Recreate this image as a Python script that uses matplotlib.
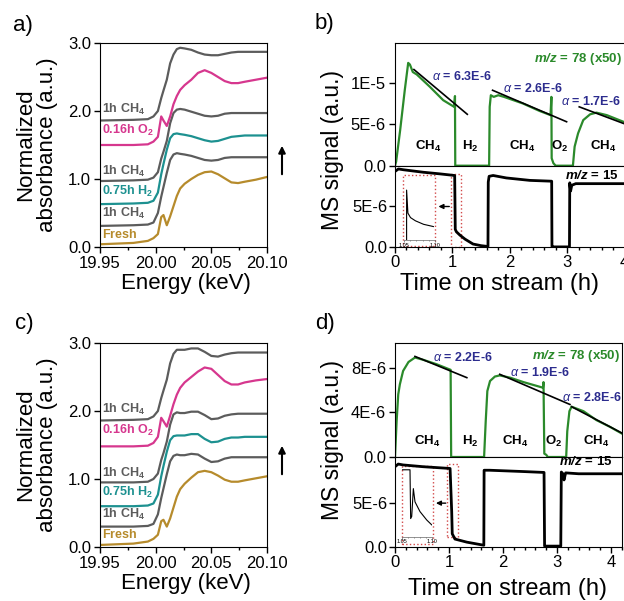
import matplotlib.pyplot as plt
from matplotlib.patches import Rectangle
from matplotlib.ticker import MultipleLocator

plt.rcParams['font.family'] = ['Liberation Sans', 'DejaVu Sans']
plt.rcParams['mathtext.fontset'] = 'custom'
plt.rcParams['mathtext.rm'] = 'Liberation Sans'
plt.rcParams['mathtext.it'] = 'Liberation Sans:italic'
plt.rcParams['mathtext.bf'] = 'Liberation Sans:bold'
plt.rcParams['mathtext.bfit'] = 'Liberation Sans:italic:bold'

# ---- XANES data (a, c) ----
energy = [19.950, 19.980, 19.993, 19.998, 20.002, 20.005, 20.007, 20.010, 20.013, 20.016, 20.019, 20.022,
          20.026, 20.032, 20.038, 20.044, 20.050, 20.056, 20.062, 20.068, 20.074, 20.080, 20.090, 20.100]

a_fresh = [0.04, 0.06, 0.09, 0.13, 0.19, 0.44, 0.47, 0.32, 0.45, 0.60, 0.75, 0.86, 0.93, 1.00, 1.06, 1.10, 1.11, 1.07, 1.01, 0.95, 0.94, 0.96, 0.99, 1.03]
a_ch4_1 = [0.31, 0.32, 0.33, 0.36, 0.50, 0.74, 0.88, 1.09, 1.28, 1.36, 1.38, 1.37, 1.36, 1.34, 1.31, 1.28, 1.27, 1.28, 1.31, 1.32, 1.32, 1.32, 1.32, 1.32]
a_h2 = [0.63, 0.64, 0.65, 0.68, 0.80, 1.07, 1.22, 1.43, 1.60, 1.66, 1.67, 1.66, 1.65, 1.63, 1.60, 1.57, 1.55, 1.56, 1.59, 1.62, 1.63, 1.64, 1.64, 1.64]
a_ch4_2 = [0.97, 0.98, 0.99, 1.02, 1.10, 1.30, 1.40, 1.56, 1.82, 1.97, 2.02, 2.03, 2.02, 1.99, 1.96, 1.93, 1.92, 1.93, 1.96, 1.97, 1.97, 1.97, 1.97, 1.97]
a_o2 = [1.50, 1.50, 1.51, 1.55, 1.62, 1.92, 1.86, 1.78, 1.92, 2.10, 2.22, 2.31, 2.38, 2.46, 2.56, 2.60, 2.56, 2.50, 2.44, 2.41, 2.41, 2.43, 2.46, 2.49]
a_ch4_3 = [1.86, 1.87, 1.88, 1.92, 2.00, 2.19, 2.30, 2.46, 2.70, 2.83, 2.91, 2.93, 2.92, 2.90, 2.86, 2.83, 2.82, 2.82, 2.84, 2.86, 2.87, 2.87, 2.87, 2.87]

c_fresh = [0.03, 0.05, 0.08, 0.12, 0.18, 0.38, 0.40, 0.30, 0.42, 0.58, 0.74, 0.85, 0.93, 1.02, 1.10, 1.12, 1.10, 1.05, 0.99, 0.96, 0.96, 0.98, 1.01, 1.04]
c_ch4_1 = [0.30, 0.30, 0.31, 0.34, 0.48, 0.72, 0.86, 1.07, 1.26, 1.34, 1.36, 1.35, 1.35, 1.37, 1.36, 1.30, 1.25, 1.26, 1.30, 1.32, 1.32, 1.32, 1.32, 1.32]
c_h2 = [0.60, 0.60, 0.61, 0.64, 0.77, 1.04, 1.19, 1.40, 1.57, 1.63, 1.64, 1.64, 1.64, 1.66, 1.66, 1.59, 1.54, 1.55, 1.59, 1.61, 1.61, 1.62, 1.62, 1.62]
c_ch4_2 = [0.95, 0.95, 0.96, 1.00, 1.08, 1.28, 1.38, 1.55, 1.80, 1.95, 1.98, 1.97, 1.97, 1.99, 1.99, 1.94, 1.88, 1.89, 1.93, 1.95, 1.96, 1.96, 1.96, 1.96]
c_o2 = [1.48, 1.48, 1.49, 1.53, 1.62, 1.90, 1.85, 1.77, 1.93, 2.10, 2.24, 2.34, 2.42, 2.50, 2.58, 2.64, 2.62, 2.53, 2.44, 2.39, 2.39, 2.42, 2.45, 2.47]
c_ch4_3 = [1.86, 1.87, 1.88, 1.92, 2.00, 2.19, 2.30, 2.46, 2.70, 2.84, 2.90, 2.90, 2.90, 2.92, 2.92, 2.87, 2.81, 2.80, 2.83, 2.85, 2.86, 2.86, 2.86, 2.86]

xanes_names = [r'$\mathbf{Fresh}$', r'$\mathbf{1h\ CH_4}$', r'$\mathbf{0.75h\ H_2}$',
               r'$\mathbf{1h\ CH_4}$', r'$\mathbf{0.16h\ O_2}$', r'$\mathbf{1h\ CH_4}$']
xanes_colors = ['#b68b2c', '#5c5c5c', '#1d9190', '#5c5c5c', '#d6378e', '#5c5c5c']
a_label_y = [0.18, 0.50, 0.82, 1.11, 1.72, 2.03]
c_label_y = [0.18, 0.48, 0.80, 1.08, 1.72, 2.02]

# ---- MS data (b, d), signal in units of 1E-6 ----
b_t78 = [0.00, 0.02, 0.09, 0.17, 0.23, 0.26, 0.31, 0.38, 0.61, 0.84, 1.03, 1.045, 1.05, 1.63, 1.64, 1.65, 1.67,
         1.72, 1.80, 1.90, 2.23, 2.52, 2.71, 2.725, 2.73, 2.76, 2.80, 3.10, 3.13, 3.19, 3.28, 3.40, 3.51, 3.69, 3.98, 4.10]
b_s78 = [0.0, 0.5, 4.3, 9.1, 12.4, 12.2, 11.3, 11.0, 9.5, 7.9, 7.1, 8.4, 0.0, 0.0, 0.0, 7.1, 8.5,
         8.3, 8.5, 8.3, 7.5, 6.6, 6.1, 8.3, 0.9, 0.3, 0.0, 0.0, 2.3, 3.9, 5.5, 6.2, 6.4, 6.1, 5.3, 5.0]
b_t15 = [0.00, 0.06, 0.15, 0.49, 0.78, 1.04, 1.05, 1.07, 1.13, 1.22, 1.36, 1.50, 1.62, 1.625, 1.64, 1.71, 1.94,
         2.35, 2.73, 2.735, 2.75, 3.04, 3.045, 3.06, 3.08, 3.15, 3.50, 4.10]
b_s15 = [9.3, 9.6, 9.5, 9.2, 9.0, 8.8, 2.2, 1.9, 1.5, 1.0, 0.4, 0.2, 0.1, 8.0, 8.7, 8.8, 8.5,
         8.2, 8.1, 0.1, 0.05, 0.05, 7.9, 6.9, 7.6, 7.8, 7.8, 7.8]
b_fit_t = [[0.33, 1.26], [1.70, 2.99], [3.21, 3.98]]
b_fit_s = [[11.6, 6.2], [9.1, 5.3], [7.1, 5.1]]
b_alpha = ['6.3E-6', '2.6E-6', '1.7E-6']
b_alpha_t = [0.64, 1.89, 2.90]
b_alpha_s = [10.7, 9.3, 7.7]
b_inset_t = [1.0542, 1.0542, 1.0563, 1.0605, 1.0684, 1.0816, 1.0974]
b_inset_s = [0.0, 7.8, 4.2, 3.5, 3.0, 2.45, 2.1]

d_t78 = [0.00, 0.03, 0.06, 0.09, 0.15, 0.25, 0.37, 0.52, 0.77, 1.03, 1.04, 1.65, 1.68, 1.71, 1.76, 1.85, 1.94,
         2.13, 2.38, 2.74, 2.75, 2.765, 2.80, 2.83, 3.17, 3.19, 3.23, 3.27, 3.49, 3.73, 3.98, 4.20]
d_s78 = [0.0, 3.2, 5.6, 6.5, 7.7, 8.5, 8.9, 8.7, 8.3, 7.8, 0.0, 0.0, 3.2, 5.9, 6.8, 7.2, 7.3,
         7.1, 6.7, 6.2, 6.7, 0.3, 0.2, 0.0, 0.0, 2.3, 4.1, 4.5, 4.1, 3.3, 2.7, 2.1]
d_t15 = [0.00, 0.06, 0.15, 0.52, 1.02, 1.05, 1.06, 1.11, 1.33, 1.60, 1.645, 1.65, 1.75, 2.38, 2.76, 2.77,
         3.07, 3.08, 3.11, 3.13, 3.16, 3.40, 4.20]
d_s15 = [9.1, 9.4, 9.3, 9.1, 8.9, 4.0, 1.5, 0.9, 0.55, 0.25, 0.2, 8.7, 8.7, 8.55, 8.45, 0.1,
         0.1, 8.5, 8.3, 7.6, 8.4, 8.3, 8.3]
d_fit_t = [[0.37, 1.33], [1.94, 3.24], [3.27, 4.20]]
d_fit_s = [[9.0, 7.1], [7.4, 4.7], [4.5, 2.15]]
d_alpha = ['2.2E-6', '1.9E-6', '2.8E-6']
d_alpha_t = [0.71, 2.13, 3.09]
d_alpha_s = [8.9, 7.6, 5.3]
d_inset_t = [1.0505, 1.0631, 1.0642, 1.0660, 1.0688, 1.0716, 1.0801, 1.0915, 1.10]
d_inset_s = [9.6, 9.6, 2.6, 2.9, 6.9, 5.0, 3.6, 2.4, 1.7]

gas_names = [r'$\mathbf{CH_4}$', r'$\mathbf{H_2}$', r'$\mathbf{CH_4}$', r'$\mathbf{O_2}$', r'$\mathbf{CH_4}$']
b_gas_t = [0.58, 1.31, 2.21, 2.87, 3.63]
d_gas_t = [0.59, 1.39, 2.22, 2.93, 3.73]

green = '#2b8a2b'
navy = '#2c2c8e'
red = '#d24a4a'

W, H = 624, 601
fig = plt.figure(figsize=(W / 100, H / 100), dpi=100)


def px_axes(x0, y0, x1, y1):
    # axes placed by pixel box (top-left origin)
    return fig.add_axes([x0 / W, 1 - y1 / H, (x1 - x0) / W, (y1 - y0) / H])


def xanes(y_top, curves, label_y):
    ax = px_axes(100, y_top, 267, y_top + 204)
    for curve, col in zip(curves, xanes_colors):
        ax.plot(energy, curve, color=col, lw=1.6)
    for name, col, ly in zip(xanes_names, xanes_colors, label_y):
        ax.text(19.9515, ly, name, color=col, fontsize=9, va='center', ha='left')
    ax.set_xlim(19.95, 20.10)
    ax.set_ylim(0, 3.0)
    ax.set_xticks([19.95, 20.00, 20.05, 20.10])
    ax.set_xticklabels(['19.95', '20.00', '20.05', '20.10'])
    ax.xaxis.set_minor_locator(MultipleLocator(0.025))
    ax.set_yticks([0, 1, 2, 3])
    ax.set_yticklabels(['0.0', '1.0', '2.0', '3.0'])
    ax.tick_params(labelsize=12, length=4, width=1, pad=2.5)
    ax.tick_params(which='minor', length=2.5, width=1)
    # arrow on the right
    ax.annotate('', xy=(282 / W, 1 - (y_top + 100) / H), xytext=(282 / W, 1 - (y_top + 134) / H),
                xycoords='figure fraction', textcoords='figure fraction',
                arrowprops=dict(arrowstyle='-|>', color='black', lw=1.5, mutation_scale=10))
    fig.text(37 / W, 1 - (y_top + 102) / H, 'Normalized\nabsorbance (a.u.)', rotation=90,
             ha='center', va='center', fontsize=16, linespacing=1.05, multialignment='center')
    fig.text(186 / W, 1 - (y_top + 240) / H, 'Energy (keV)', ha='center', va='center', fontsize=16)


def ms(y_top, y_mid, y_bot, x_right, xmax, top_lim, top_ticks, top_labels, bot_lim,
       t78, s78, t15, s15, fit_t, fit_s, alpha, alpha_t, alpha_s, gas_t, gas_y, mz78, mz15,
       inset_box, small_box, arrow_y, inset_px, inset_t, inset_s):
    top = px_axes(395, y_top, x_right, y_mid)
    bot = px_axes(395, y_mid, x_right, y_bot)
    top.plot(t78, s78, color=green, lw=1.6)
    for ft, fs in zip(fit_t, fit_s):
        top.plot(ft, fs, color='black', lw=1.2)
    for a, at, av in zip(alpha, alpha_t, alpha_s):
        top.text(at, av, r'$\alpha$ = ' + a, color=navy, fontsize=9, fontweight='bold', va='center')
    for g, gt in zip(gas_names, gas_t):
        top.text(gt, gas_y, g, fontsize=9.5, ha='center', va='center')
    top.text(mz78[0], mz78[1], r'$\mathbfit{m/z}$ = 78 (x50)', color=green, fontsize=9.5,
             fontweight='bold', ha='right', va='center')
    top.set_xlim(0, xmax)
    top.set_ylim(0, top_lim)
    top.set_yticks(top_ticks)
    top.set_yticklabels(top_labels)
    top.tick_params(axis='x', bottom=False, labelbottom=False)
    top.tick_params(axis='y', labelsize=12, length=4, width=1, pad=2.5)

    bot.plot(t15, s15, color='black', lw=2)
    bot.text(mz15[0], mz15[1], r'$\mathbfit{m/z}$ = 15', fontsize=9.5, fontweight='bold',
             ha='right', va='center')
    bot.set_xlim(0, xmax)
    bot.set_ylim(0, bot_lim)
    bot.set_yticks([0, 5])
    bot.set_yticklabels(['0.0', '5E-6'])
    bot.set_xticks([0, 1, 2, 3, 4])
    bot.xaxis.set_minor_locator(MultipleLocator(0.2))
    bot.tick_params(labelsize=12, length=4, width=1, pad=1.5)
    bot.tick_params(which='minor', length=2.5, width=1)

    # zoom boxes and arrow
    for (x0, y0, x1, y1) in [inset_box, small_box]:
        bot.add_patch(Rectangle((x0, y0), x1 - x0, y1 - y0, fill=False, ls=':', ec=red, lw=1.0,
                                clip_on=False))
    bot.annotate('', xy=(inset_box[2] + 0.06, arrow_y), xytext=(small_box[0] - 0.03, arrow_y),
                 arrowprops=dict(arrowstyle='-|>', color='black', lw=1.0, mutation_scale=7,
                                 shrinkA=0, shrinkB=0))

    ins = px_axes(*inset_px)
    ins.plot(inset_t, inset_s, color='black', lw=0.8)
    ins.set_xlim(1.05, 1.10)
    ins.set_ylim(0, 10)
    ins.patch.set_alpha(0)
    for s in ['top', 'right', 'left']:
        ins.spines[s].set_visible(False)
    ins.spines['bottom'].set_linewidth(0.5)
    ins.spines['bottom'].set_color('#666666')
    ins.set_yticks([])
    ins.set_xticks([1.05, 1.10])
    ins.set_xticklabels(['1.05', '1.10'])
    ins.xaxis.set_minor_locator(MultipleLocator(0.01))
    ins.tick_params(labelsize=4, length=1.5, width=0.5, pad=0.5, color='#666666')
    ins.tick_params(which='minor', length=1, width=0.5, color='#666666')
    return top, bot


# panel a and c
xanes(43, [a_fresh, a_ch4_1, a_h2, a_ch4_2, a_o2, a_ch4_3], a_label_y)
xanes(343, [c_fresh, c_ch4_1, c_h2, c_ch4_2, c_o2, c_ch4_3], c_label_y)

# panel b
ms(43, 165.7, 247.3, 630.3, 4.1, 14.8, [0, 5, 10], ['0.0', '5E-6', '1E-5'], 10.0,
   b_t78, b_s78, b_t15, b_s15, b_fit_t, b_fit_s, b_alpha, b_alpha_t, b_alpha_s, b_gas_t, 2.3,
   (3.95, 12.9), (3.89, 8.86), (0.134, 0.15, 0.697, 8.9), (0.976, 0.0, 1.145, 9.0), 5.0,
   (404, 176, 435, 240), b_inset_t, b_inset_s)
fig.text(333 / W, 1 - 150 / H, 'MS signal (a.u.)', rotation=90, ha='center', va='center', fontsize=16.5)
fig.text(500 / W, 1 - 284 / H, 'Time on stream (h)', ha='center', va='center', fontsize=17)

# panel d
ms(343, 457, 547, 621.8, 4.2, 10.2, [0, 4, 8], ['0.0', '4E-6', '8E-6'], 10.2,
   d_t78, d_s78, d_t15, d_s15, d_fit_t, d_fit_s, d_alpha, d_alpha_t, d_alpha_s, d_gas_t, 1.4,
   (4.17, 9.0), (4.03, 9.67), (0.124, 0.3, 0.698, 9.16), (0.969, 1.15, 1.172, 9.44), 4.97,
   (402.3, 467, 431.7, 536.7), d_inset_t, d_inset_s)
fig.text(333 / W, 1 - 440 / H, 'MS signal (a.u.)', rotation=90, ha='center', va='center', fontsize=16.5)
fig.text(507 / W, 1 - 589 / H, 'Time on stream (h)', ha='center', va='center', fontsize=17)

# panel letters
for lab, x, y in [('a)', 13, 26), ('b)', 315, 24), ('c)', 15, 323), ('d)', 315, 323)]:
    fig.text(x / W, 1 - y / H, lab, fontsize=16, va='center', ha='left')

fig.savefig('out.png', dpi=100)
